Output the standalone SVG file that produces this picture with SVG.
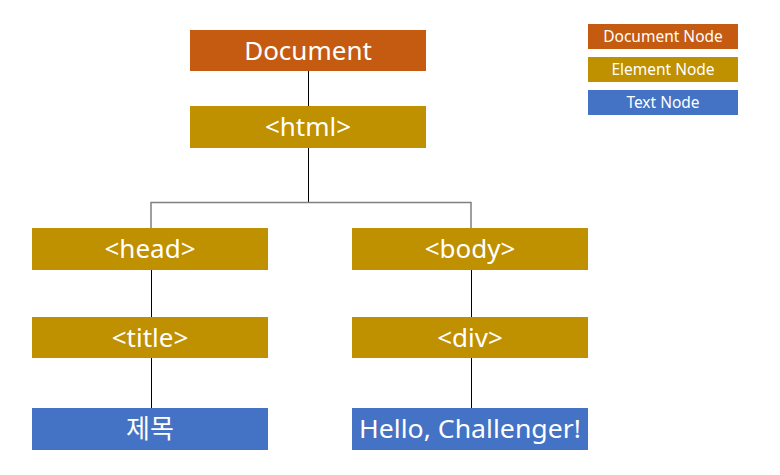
<svg xmlns="http://www.w3.org/2000/svg" width="780" height="475" viewBox="0 0 780 475">
<style>
.doc{fill:#C55A11}
.el{fill:#BF9000}
.tx{fill:#4472C4}
.t{font-family:"Noto Sans","Noto Sans CJK KR",sans-serif;fill:#fff;text-anchor:middle;dominant-baseline:central;font-size:26px}
.lg{font-size:15.5px}
.ln{stroke:#000;stroke-width:1;fill:none}
.gr{stroke:#808080;stroke-width:1.5;fill:none}
</style>
<rect width="780" height="475" fill="#fff"/>
<g id="connectors">
<line class="ln" x1="308.5" y1="71" x2="308.5" y2="106"/>
<line class="ln" x1="308.5" y1="148" x2="308.5" y2="202"/>
<polyline class="gr" points="151,228 151,202.5 471,202.5 471,228"/>
<line class="ln" x1="151.5" y1="270" x2="151.5" y2="317"/>
<line class="ln" x1="151.5" y1="358" x2="151.5" y2="408"/>
<line class="ln" x1="471.5" y1="270" x2="471.5" y2="317"/>
<line class="ln" x1="471.5" y1="358" x2="471.5" y2="408"/>
</g>
<g id="document"><rect class="doc" x="190" y="30" width="236" height="41"/><text class="t" x="308" y="49.5">Document</text></g>
<g id="html"><rect class="el" x="190" y="106" width="236" height="42"/><text class="t" x="308" y="126">&lt;html&gt;</text></g>
<g id="head"><rect class="el" x="32" y="228" width="236" height="42"/><text class="t" x="150" y="248">&lt;head&gt;</text></g>
<g id="body"><rect class="el" x="352" y="228" width="236" height="42"/><text class="t" x="470" y="248">&lt;body&gt;</text></g>
<g id="title"><rect class="el" x="32" y="317" width="236" height="41"/><text class="t" x="150" y="336.5">&lt;title&gt;</text></g>
<g id="div"><rect class="el" x="352" y="317" width="236" height="41"/><text class="t" x="470" y="336.5">&lt;div&gt;</text></g>
<g id="text-title"><rect class="tx" x="32" y="408" width="236" height="42"/><text class="t" x="150" y="428">제목</text></g>
<g id="text-hello"><rect class="tx" x="352" y="408" width="236" height="42"/><text class="t" x="470" y="428" textLength="222" lengthAdjust="spacingAndGlyphs">Hello, Challenger!</text></g>
<g id="legend-document"><rect class="doc" x="588" y="24" width="150" height="25"/><text class="t lg" x="663" y="36">Document Node</text></g>
<g id="legend-element"><rect class="el" x="588" y="57" width="150" height="25"/><text class="t lg" x="663" y="69">Element Node</text></g>
<g id="legend-text"><rect class="tx" x="588" y="90" width="150" height="25"/><text class="t lg" x="663" y="102">Text Node</text></g>
</svg>
